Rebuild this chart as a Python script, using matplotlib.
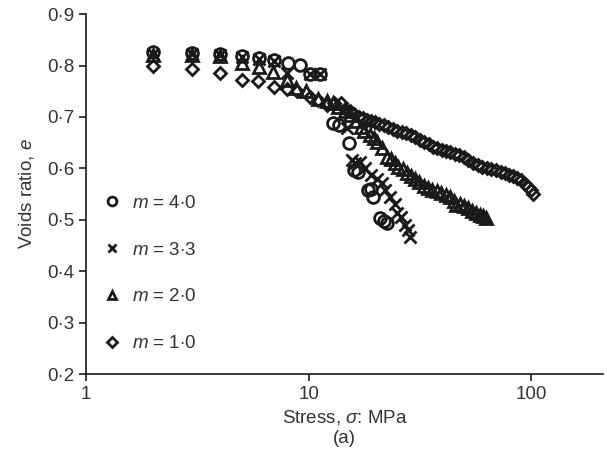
import matplotlib
matplotlib.use("Agg")
import matplotlib.pyplot as plt

plt.rcParams['font.family'] = ['Liberation Sans', 'DejaVu Sans']
plt.rcParams['mathtext.fontset'] = 'custom'
plt.rcParams['mathtext.it'] = 'Liberation Sans:italic'
plt.rcParams['mathtext.rm'] = 'Liberation Sans'

# m = 4.0 (circles)
stress_m40 = [2, 3, 4, 5, 6, 7, 8.1, 9.1, 10.1, 11.2, 12.9, 13.7, 15.1, 15.9, 16.7,
              18.5, 19.0, 19.5, 21.0, 21.8, 22.5]
e_m40 = [0.826, 0.825, 0.822, 0.818, 0.814, 0.810, 0.805, 0.801, 0.783, 0.783, 0.688,
         0.684, 0.649, 0.597, 0.593, 0.558, 0.560, 0.544, 0.503, 0.497, 0.494]

# m = 3.3 (crosses)
stress_m33 = [2, 3, 4, 5, 6, 7, 8.0, 10.1, 11.2, 14.9, 15.6, 16.2, 17.0, 17.9, 19.0,
              20.3, 21.3, 22.1, 23.2, 24.4, 24.9, 26.0, 27.0, 27.9, 28.5]
e_m33 = [0.822, 0.822, 0.820, 0.816, 0.812, 0.808, 0.785, 0.783, 0.783, 0.678, 0.616,
         0.610, 0.613, 0.600, 0.588, 0.579, 0.571, 0.558, 0.545, 0.530, 0.514, 0.505,
         0.490, 0.480, 0.467]

# m = 2.0 (triangles)
stress_m20 = [2, 3, 4, 5, 6, 6.9, 8.0, 8.8, 9.7, 11.0, 12.1, 12.8, 13.6, 14.5, 15.4,
              16.3, 17.2, 17.8, 18.8, 19.7, 20.3, 21.4, 22.5, 23.4, 24.4, 25.3, 26.4,
              27.6, 28.8, 30.0, 31.4, 32.9, 34.3, 35.9, 37.5, 39.3, 41.2, 43.2, 44.8,
              46.0, 47.8, 49.8, 52.0, 54.3, 56.5, 58.5, 60.5, 62.5]
e_m20 = [0.820, 0.820, 0.818, 0.805, 0.797, 0.788, 0.772, 0.757, 0.750, 0.735, 0.731,
         0.727, 0.720, 0.712, 0.703, 0.693, 0.681, 0.673, 0.665, 0.660, 0.652, 0.640,
         0.622, 0.618, 0.610, 0.603, 0.598, 0.590, 0.586, 0.580, 0.574, 0.566, 0.562,
         0.558, 0.555, 0.552, 0.548, 0.544, 0.536, 0.528, 0.530, 0.526, 0.522, 0.518,
         0.514, 0.510, 0.507, 0.504]

# m = 1.0 (diamonds)
stress_m10 = [2, 3, 4, 5, 5.9, 7.0, 8.0, 8.9, 10.1, 11.0, 12.1, 13.0, 13.9, 14.6, 15.3,
              16.0, 16.8, 17.5, 18.2, 19.0, 19.8, 20.7, 21.7, 22.7, 23.8, 24.9, 26.1,
              27.4, 28.7, 30.0, 31.5, 33.0, 34.6, 36.1, 37.7, 39.5, 41.3, 43.2, 45.2,
              47.4, 49.6, 52.0, 54.5, 57.3, 60.2, 63.0, 66.0, 69.3, 72.7, 76.0, 79.5,
              83.0, 86.5, 90.0, 93.5, 96.8, 99.5, 101.5]
e_m10 = [0.800, 0.794, 0.785, 0.772, 0.770, 0.758, 0.754, 0.750, 0.739, 0.733, 0.724,
         0.728, 0.727, 0.716, 0.712, 0.706, 0.700, 0.697, 0.694, 0.692, 0.690, 0.686,
         0.684, 0.680, 0.676, 0.673, 0.671, 0.668, 0.665, 0.661, 0.656, 0.652, 0.647,
         0.642, 0.639, 0.636, 0.634, 0.632, 0.628, 0.625, 0.622, 0.616, 0.610, 0.606,
         0.603, 0.600, 0.598, 0.596, 0.593, 0.590, 0.588, 0.585, 0.582, 0.577, 0.570,
         0.563, 0.557, 0.551]

labels = [r'$m$ = 4$\cdot$0', r'$m$ = 3$\cdot$3', r'$m$ = 2$\cdot$0', r'$m$ = 1$\cdot$0']
y_ticks = [0.2, 0.3, 0.4, 0.5, 0.6, 0.7, 0.8, 0.9]
y_ticklabels = ['0·2', '0·3', '0·4', '0·5', '0·6', '0·7', '0·8', '0·9']
x_ticks = [1, 10, 100]
x_ticklabels = ['1', '10', '100']

ink = '#1a1a1a'
txt = '#333333'
fs = 13.5
fig = plt.figure(figsize=(6.07, 4.55), dpi=100)
ax = fig.add_axes([0.1417, 0.178, 0.852, 0.791])

common = dict(linestyle='none', color=ink, markerfacecolor='none', markeredgewidth=2.0)
ax.plot(stress_m40, e_m40, marker='o', markersize=8.5, label=labels[0], **common)
ax.plot(stress_m33, e_m33, marker='x', markersize=8, label=labels[1], **common)
ax.plot(stress_m20, e_m20, marker='^', markersize=8.5, label=labels[2], **common)
ax.plot(stress_m10, e_m10, marker='D', markersize=6.5, label=labels[3], **common)

ax.set_xscale('log')
ax.set_xlim(1, 210)
ax.set_ylim(0.2, 0.9)
ax.set_xticks(x_ticks)
ax.set_xticklabels(x_ticklabels)
ax.xaxis.set_minor_locator(matplotlib.ticker.NullLocator())
ax.set_yticks(y_ticks)
ax.set_yticklabels(y_ticklabels)
ax.tick_params(axis='both', direction='out', length=5, width=1.2, colors=ink,
               labelsize=fs, labelcolor=txt)
for s in ['top', 'right']:
    ax.spines[s].set_visible(False)
for s in ['left', 'bottom']:
    ax.spines[s].set_linewidth(1.2)
    ax.spines[s].set_color(ink)

ax.set_xlabel('Stress, $\\sigma$: MPa\n(a)', fontsize=fs, color=txt, labelpad=4,
              linespacing=1.2)
ax.set_ylabel('Voids ratio, $e$', fontsize=fs, color=txt, labelpad=8)

leg = ax.legend(loc='upper left', bbox_to_anchor=(0.0, 0.545), frameon=False,
                markerscale=0.75, handlelength=1.0, handletextpad=0.55,
                labelspacing=1.58, fontsize=fs, borderaxespad=0.5)
for t in leg.get_texts():
    t.set_color(txt)

fig.savefig('out.png', dpi=100)
